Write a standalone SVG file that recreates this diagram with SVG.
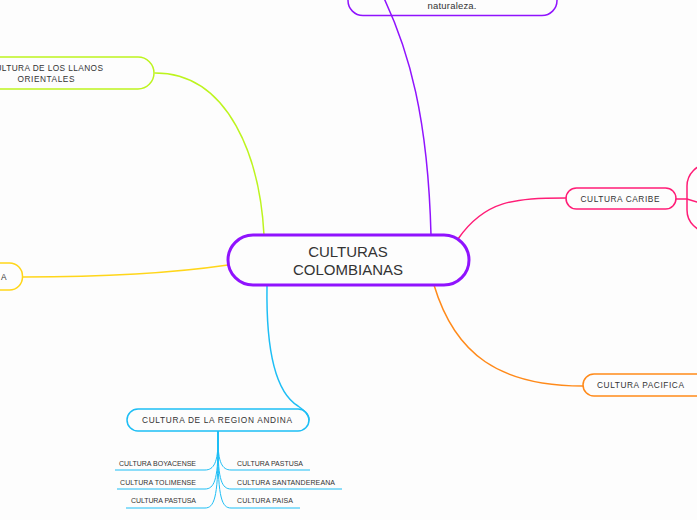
<svg xmlns="http://www.w3.org/2000/svg" width="697" height="520" viewBox="0 0 697 520">
<style>
  text { font-family: "Liberation Sans", Arial, sans-serif; fill: #333; }
  .c { fill: none; stroke-width: 1.5; stroke-linecap: round; }
  .n { fill: none; stroke-width: 1.5; }
  .s { font-size: 8.3px; }
  .t { font-size: 7px; }
  .sub { fill: none; stroke: #1DBEF5; stroke-width: 1; }
</style>
<rect width="697" height="520" fill="#fdfdfd"/>
<g id="connectors">
  <path class="c" stroke="#9013FE" d="M431,235 C428,120 410,50 380,-10"/>
  <path class="c" stroke="#BDF41E" d="M155,73 C230,73 260,160 264,235"/>
  <path class="c" stroke="#FFD61A" d="M23,277 C120,277 180,272 228,265"/>
  <path class="c" stroke="#FF1D77" d="M458,239 C485,200 515,198 566,198"/>
  <path class="c" stroke="#FF1D77" d="M676,199 H687 L697,202"/>
  <path class="c" stroke="#FF8A1A" d="M434,285 C455,355 500,386 583,386"/>
  <path class="c" stroke="#1DBEF5" d="M267,286 C266,350 275,392 298,406 C304,410 309,414 309,420"/>
  <path d="M218,431 V455" stroke="#1DBEF5" stroke-width="2" fill="none"/>
  <path class="sub" d="M218,440 C218,462 214,470 205,470 H115"/>
  <path class="sub" d="M218,445 C218,480 214,489 205,489 H117"/>
  <path class="sub" d="M218,450 C218,498 214,508 205,508 H126"/>
  <path class="sub" d="M218,440 C218,462 222,470 231,470 H310"/>
  <path class="sub" d="M218,445 C218,480 222,489 231,489 H342"/>
  <path class="sub" d="M218,450 C218,498 222,508 231,508 H300"/>
</g>
<g id="central">
  <rect x="228" y="235" width="241" height="50" rx="25" fill="none" stroke="#9013FE" stroke-width="3"/>
  <text x="348" y="257" font-size="15" text-anchor="middle">CULTURAS</text>
  <text x="348" y="275" font-size="15" text-anchor="middle">COLOMBIANAS</text>
</g>
<g id="naturaleza">
  <rect x="348" y="-30" width="209" height="45.5" rx="15" class="n" stroke="#9013FE"/>
  <text x="452" y="9" font-size="9.5" text-anchor="middle" textLength="49">naturaleza.</text>
</g>
<g id="llanos">
  <rect x="-60" y="57" width="214" height="32" rx="16" class="n" stroke="#BDF41E"/>
  <text class="s" x="46" y="71" text-anchor="middle" textLength="114">CULTURA DE LOS LLANOS</text>
  <text class="s" x="46" y="82" text-anchor="middle" textLength="57">ORIENTALES</text>
</g>
<g id="amarillo">
  <rect x="-80" y="263" width="102.5" height="27" rx="13" class="n" stroke="#FFD61A"/>
  <text class="s" x="6.5" y="280" text-anchor="end">A</text>
</g>
<g id="caribe">
  <rect x="566" y="188" width="110" height="21" rx="10.5" class="n" stroke="#FF1D77"/>
  <text class="s" x="620" y="202" text-anchor="middle" textLength="79">CULTURA CARIBE</text>
</g>
<g id="caribe-sub">
  <rect x="687" y="164" width="60" height="68" rx="22" class="n" stroke="#FF1D77"/>
</g>
<g id="pacifica">
  <rect x="583" y="374" width="130" height="22" rx="11" class="n" stroke="#FF8A1A"/>
  <text class="s" x="640.5" y="388" text-anchor="middle" textLength="87">CULTURA PACIFICA</text>
</g>
<g id="andina">
  <rect x="127" y="409" width="182" height="22" rx="11" class="n" stroke="#1DBEF5"/>
  <text class="s" x="217" y="423" text-anchor="middle" textLength="150">CULTURA DE LA REGION ANDINA</text>
</g>
<g id="boyacense"><text class="t" x="196" y="465.5" text-anchor="end" textLength="77">CULTURA BOYACENSE</text></g>
<g id="tolimense"><text class="t" x="196" y="484.5" text-anchor="end" textLength="76">CULTURA TOLIMENSE</text></g>
<g id="pastusa-l"><text class="t" x="196" y="503" text-anchor="end" textLength="65">CULTURA PASTUSA</text></g>
<g id="pastusa-r"><text class="t" x="237" y="465.5" textLength="66">CULTURA PASTUSA</text></g>
<g id="santandereana"><text class="t" x="237" y="484.5" textLength="98">CULTURA SANTANDEREANA</text></g>
<g id="paisa"><text class="t" x="237" y="503" textLength="56">CULTURA PAISA</text></g>
</svg>
